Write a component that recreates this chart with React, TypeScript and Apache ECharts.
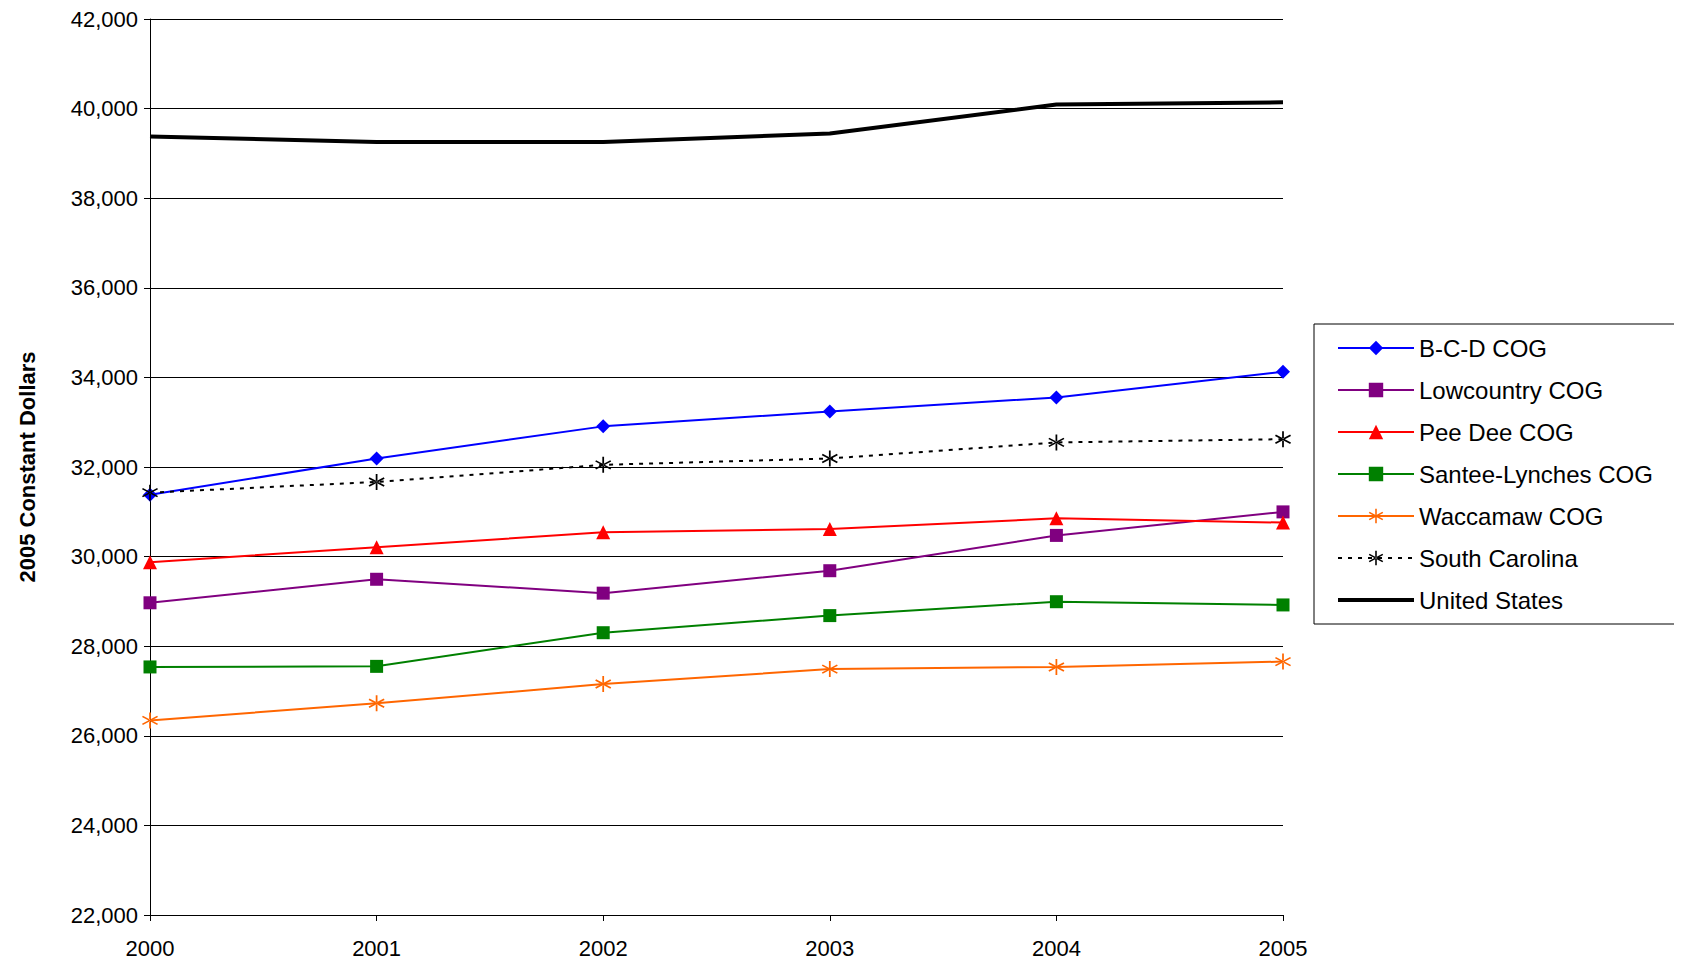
import { useEffect, useRef } from "react"
import * as echarts from "echarts"

const years = ["2000", "2001", "2002", "2003", "2004", "2005"]
const bcd = [31380, 32190, 32907, 33241, 33551, 34124]
const lowcountry = [28969, 29494, 29184, 29685, 30473, 30998]
const peeDee = [29876, 30210, 30544, 30616, 30854, 30759]
const santee = [27537, 27550, 28301, 28683, 28993, 28921]
const waccamaw = [26344, 26726, 27155, 27489, 27537, 27656]
const southCarolina = [31427, 31666, 32048, 32190, 32549, 32621]
const unitedStates = [39375, 39255, 39255, 39445, 40090, 40140]

const star =
  "path://M0,-10L1,-10L1,10L-1,10L-1,-10Z" +
  "M8.16,5.87L9.16,4.13L-8.16,-5.87L-9.16,-4.13Z" +
  "M9.16,-4.13L8.16,-5.87L-9.16,4.13L-8.16,5.87Z"

const font = "Liberation Sans, Arial, sans-serif"

export default function App() {
  const chartRef = useRef<HTMLDivElement>(null)

  useEffect(() => {
    if (!chartRef.current) return
    const chart = echarts.init(chartRef.current, undefined, { renderer: "svg" })

    const line = (name: string, data: number[], color: string, symbol: string, size: number, extra: any = {}) => ({
      name,
      type: "line",
      data,
      symbol,
      symbolSize: size,
      itemStyle: { color },
      lineStyle: { color, width: 2, ...(extra.lineStyle || {}) },
    })

    chart.setOption({
      animation: false,
      textStyle: { fontFamily: font },
      grid: { left: 140, top: 9, width: 1135, height: 899 },
      legend: {
        orient: "vertical",
        left: 1306,
        top: 316,
        padding: [12, 40, 12, 22],
        itemWidth: 76,
        itemHeight: 18,
        itemGap: 18,
        borderColor: "#000",
        borderWidth: 1,
        textStyle: { fontSize: 24, color: "#000", fontFamily: font },
        data: [
          "B-C-D COG",
          "Lowcountry COG",
          "Pee Dee COG",
          "Santee-Lynches COG",
          "Waccamaw COG",
          "South Carolina",
          { name: "United States", itemStyle: { opacity: 0 }, lineStyle: { width: 4 } },
        ],
      },
      xAxis: {
        type: "category",
        data: years,
        boundaryGap: false,
        axisLine: { lineStyle: { color: "#000" } },
        axisTick: { show: true, length: 6, lineStyle: { color: "#000" } },
        axisLabel: { color: "#000", fontSize: 22, margin: 22 },
      },
      yAxis: {
        type: "value",
        min: 22000,
        max: 42000,
        interval: 2000,
        name: "2005 Constant Dollars",
        nameLocation: "middle",
        nameGap: 112,
        nameTextStyle: { fontSize: 22, fontWeight: "bold", color: "#000" },
        axisLine: { show: true, lineStyle: { color: "#000" } },
        axisTick: { show: true, length: 6, lineStyle: { color: "#000" } },
        axisLabel: {
          color: "#000",
          fontSize: 22,
          margin: 12,
          formatter: (v: number) => v.toLocaleString("en-US"),
        },
        splitLine: { lineStyle: { color: "#000", width: 1 } },
      },
      series: [
        line("B-C-D COG", bcd, "#0000ff", "diamond", 14),
        line("Lowcountry COG", lowcountry, "#800080", "rect", 13),
        line("Pee Dee COG", peeDee, "#ff0000", "triangle", 14),
        line("Santee-Lynches COG", santee, "#008000", "rect", 13),
        line("Waccamaw COG", waccamaw, "#ff6600", star, 16),
        line("South Carolina", southCarolina, "#000", star, 16, { lineStyle: { type: [4, 6] } }),
        line("United States", unitedStates, "#000", "none", 0, { lineStyle: { width: 4 } }),
      ],
    })

    return () => chart.dispose()
  }, [])

  return <div ref={chartRef} style={{ width: 1666, height: 951 }} />
}
